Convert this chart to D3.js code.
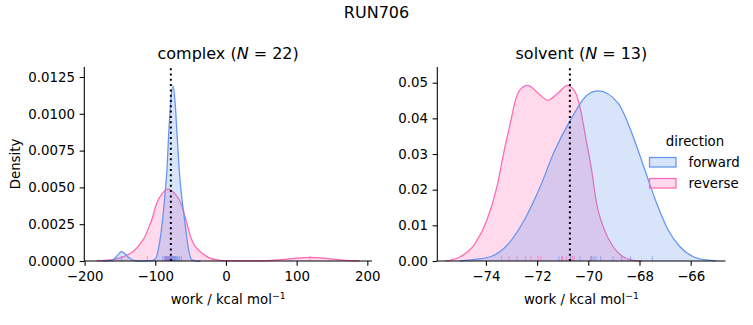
<!DOCTYPE html>
<html><head><meta charset="utf-8">
<script src="https://cdn.jsdelivr.net/npm/d3@7"></script>
<style>
body{margin:0;background:#fff}
svg{display:block}
text{font-family:"DejaVu Sans",sans-serif;fill:#000}
</style>
</head><body>
<svg id="c" width="753" height="325"></svg>
<script>
// ---------------- data ----------------
const figTitle = "RUN706";
const panels = ["complex", "solvent"];
const panelN = [22, 13];
const directions = ["forward", "reverse"];
const dirColors = ["#6495ED", "#FF69B4"];

// density curves [work, density]
const complexForwardKDE = [
  [-175,0],[-164,0.00002],[-158,0.00015],[-153,0.0004],[-148,0.00063],[-143,0.0005],
  [-138,0.00025],[-131,0.00005],[-120,0],[-105,0.00002],[-99,0.0002],[-95.8,0.00075],
  [-89.7,0.00279],[-86.3,0.0045],[-83.5,0.00618],[-81.2,0.00845],[-78.3,0.0107],
  [-75,0.0119],[-71.8,0.0107],[-69,0.00845],[-66.1,0.00618],[-62.2,0.0042],
  [-58.5,0.00279],[-52.8,0.00075],[-48.6,0.0001],[-42,0],[-36,0]
];
const complexReverseKDE = [
  [-183,0],[-172,0.00004],[-160,0.0001],[-145,0.0003],[-135,0.00052],[-128.8,0.00075],
  [-121,0.0012],[-114.7,0.00165],[-110,0.0022],[-105,0.00279],[-98,0.00392],[-90,0.0046],
  [-81.7,0.00489],[-73,0.0046],[-63.7,0.00392],[-56.6,0.00279],[-50,0.00165],[-45,0.0011],
  [-39,0.00075],[-30,0.0004],[-22,0.00018],[-10,0.00006],[0,0.00002],[20,0.00001],
  [40,0.00001],[60,0.00003],[80,0.0001],[95,0.00017],[105,0.00022],[119,0.00025],
  [133,0.00022],[143,0.00017],[158,0.0001],[178,0.00003],[189,0.00001]
];
const solventForwardKDE = [
  [-75.0,0],[-74.6,0.0003],[-73.83,0.0012],[-73.11,0.00495],[-72.5,0.0115],[-71.88,0.0208],
  [-71.36,0.0302],[-70.7,0.0395],[-70.05,0.0465],[-69.61,0.0477],[-68.83,0.0442],
  [-68.25,0.0349],[-67.79,0.0255],[-67.33,0.0162],[-66.88,0.0087],[-66.42,0.004],
  [-65.9,0.0012],[-65.4,0.0003],[-65.0,0]
];
const solventReverseKDE = [
  [-75.6,0],[-75.4,0.0002],[-75.0,0.0012],[-74.42,0.00495],[-73.96,0.0115],[-73.57,0.0208],
  [-73.31,0.0302],[-73.02,0.0395],[-72.88,0.0442],[-72.68,0.0479],[-72.37,0.04925],
  [-71.95,0.047],[-71.58,0.0451],[-71.2,0.047],[-70.81,0.04925],[-70.5,0.0472],
  [-70.33,0.0433],[-70.1,0.0345],[-69.87,0.0255],[-69.68,0.0162],[-69.42,0.0096],
  [-69.03,0.004],[-68.64,0.0012],[-68.25,0.0002],[-67.9,0]
];

// individual work values (rug)
const complexForwardWork = [-147.8,-89.5,-87.2,-85.5,-84.0,-82.6,-81.3,-80.1,-79.0,-78.1,-77.0,
  -76.2,-75.3,-74.4,-73.5,-72.6,-71.5,-70.3,-69.0,-67.4,-65.6,-63.0];
const complexReverseWork = [-111.2,-86.5,-85.2,-84.4,-83.7,-83.0,-82.4,-81.8,-81.2,-80.6,-80.0,
  -79.4,-78.8,-78.2,-77.6,-77.0,-76.3,-75.5,-74.5,-73.0,-71.5,119.0];
const solventForwardWork = [-71.15,-71.04,-70.7,-70.32,-69.9,-69.86,-69.78,-69.70,-69.52,
  -69.03,-68.70,-68.35,-67.50];
const solventReverseWork = [-73.39,-73.09,-72.78,-72.45,-72.24,-71.96,-71.85,-71.0,-70.85,
  -70.68,-70.61,-70.55,-69.9];

// free-energy estimate (dotted line)
const deltaG = [-78.0, -70.72];

// axis limits and ticks
const xLims = [[-200.4, 206.6], [-75.90, -64.64]];
const yLims = [[0, 0.013179], [0, 0.0544]];
const xTicks = [[-200,-100,0,100,200], [-74,-72,-70,-68,-66]];
const yTicks = [[0,0.0025,0.005,0.0075,0.01,0.0125], [0,0.01,0.02,0.03,0.04,0.05]];
const yTickFmt = [".4f", ".2f"];

const kdeData = [[complexForwardKDE, complexReverseKDE], [solventForwardKDE, solventReverseKDE]];
const rugData = [[complexForwardWork, complexReverseWork], [solventForwardWork, solventReverseWork]];

// ---------------- layout ----------------
const svg = d3.select("#c");
const axBox = [
  {x0: 84.3, x1: 372.0, y0: 67, y1: 261},
  {x0: 437.3, x1: 725.5, y0: 67, y1: 261}
];
const FS = 13.33;
const tickLen = 4.67;

svg.append("text").attr("x", 376.5).attr("y", 18.3).attr("text-anchor", "middle")
  .style("font-size", "16px").text(figTitle);

panels.forEach((p, i) => {
  const b = axBox[i];
  const x = d3.scaleLinear().domain(xLims[i]).range([b.x0, b.x1]);
  const y = d3.scaleLinear().domain(yLims[i]).range([b.y1, b.y0]);
  const g = svg.append("g");

  const area = d3.area().x(d => x(d[0])).y0(y(0)).y1(d => y(d[1])).curve(d3.curveMonotoneX);
  const line = d3.line().x(d => x(d[0])).y(d => y(d[1])).curve(d3.curveMonotoneX);

  // reverse first, forward on top
  [1, 0].forEach(k => {
    g.append("path").datum(kdeData[i][k]).attr("d", area)
      .attr("fill", dirColors[k]).attr("fill-opacity", 0.25).attr("stroke", "none");
    g.append("path").datum(kdeData[i][k]).attr("d", line)
      .attr("fill", "none").attr("stroke", dirColors[k]).attr("stroke-width", 1.25);
  });

  // rug
  [1, 0].forEach(k => {
    g.selectAll(null).data(rugData[i][k]).enter().append("line")
      .attr("x1", d => x(d)).attr("x2", d => x(d))
      .attr("y1", y(0)).attr("y2", y(0) - 0.025 * (b.y1 - b.y0))
      .attr("stroke", dirColors[k]).attr("stroke-width", 1).attr("stroke-opacity", 0.65);
  });

  // dotted line
  g.append("line").attr("x1", x(deltaG[i])).attr("x2", x(deltaG[i]))
    .attr("y1", b.y1).attr("y2", b.y0)
    .attr("stroke", "#000").attr("stroke-width", 2).attr("stroke-dasharray", "2,3.3");

  // axes
  const xa = g.append("g").attr("transform", `translate(0,${b.y1})`)
    .call(d3.axisBottom(x).tickValues(xTicks[i]).tickFormat(d3.format("d"))
      .tickSize(tickLen).tickPadding(6).tickSizeOuter(0));
  const ya = g.append("g").attr("transform", `translate(${b.x0},0)`)
    .call(d3.axisLeft(y).tickValues(yTicks[i]).tickFormat(d3.format(yTickFmt[i]))
      .tickSize(tickLen).tickPadding(4.67).tickSizeOuter(0));
  [xa, ya].forEach(a => {
    a.selectAll("text").style("font-size", FS + "px").style("font-family", "DejaVu Sans");
    a.selectAll("line").attr("stroke-width", 1.07);
    a.select(".domain").attr("stroke-width", 1.07);
    a.attr("font-family", null).attr("font-size", null);
  });
  xa.select(".domain").attr("d", `M${b.x0},0H${b.x1}`);
  ya.select(".domain").attr("d", `M0,${b.y1}V${b.y0}`);

  // title
  const t = g.append("text").attr("x", (b.x0 + b.x1) / 2).attr("y", 58.8)
    .attr("text-anchor", "middle").style("font-size", "16px");
  t.append("tspan").text(p + " (");
  t.append("tspan").style("font-style", "italic").text("N");
  t.append("tspan").text(" = " + panelN[i] + ")");

  // x label
  const xl = g.append("text").attr("x", (b.x0 + b.x1) / 2).attr("y", 304)
    .attr("text-anchor", "middle").style("font-size", FS + "px");
  xl.append("tspan").text("work / kcal mol");
  xl.append("tspan").attr("dy", -5.5).style("font-size", "9.3px").text("\u22121");

  if (i === 0) {
    svg.append("text").attr("transform", `translate(19.5,${(b.y0 + b.y1) / 2}) rotate(-90)`)
      .attr("text-anchor", "middle").style("font-size", FS + "px").text("Density");
  }
});

// legend
const lg = svg.append("g");
lg.append("text").attr("x", 695).attr("y", 145.5).attr("text-anchor", "middle")
  .style("font-size", FS + "px").text("direction");
directions.forEach((d, k) => {
  const yy = 157.5 + k * 21;
  lg.append("rect").attr("x", 649.5).attr("y", yy).attr("width", 26.5).attr("height", 9.5)
    .attr("fill", dirColors[k]).attr("fill-opacity", 0.25)
    .attr("stroke", dirColors[k]).attr("stroke-width", 1.25);
  lg.append("text").attr("x", 688.5).attr("y", yy + 9.2)
    .style("font-size", FS + "px").text(d);
});
</script>
</body></html>
